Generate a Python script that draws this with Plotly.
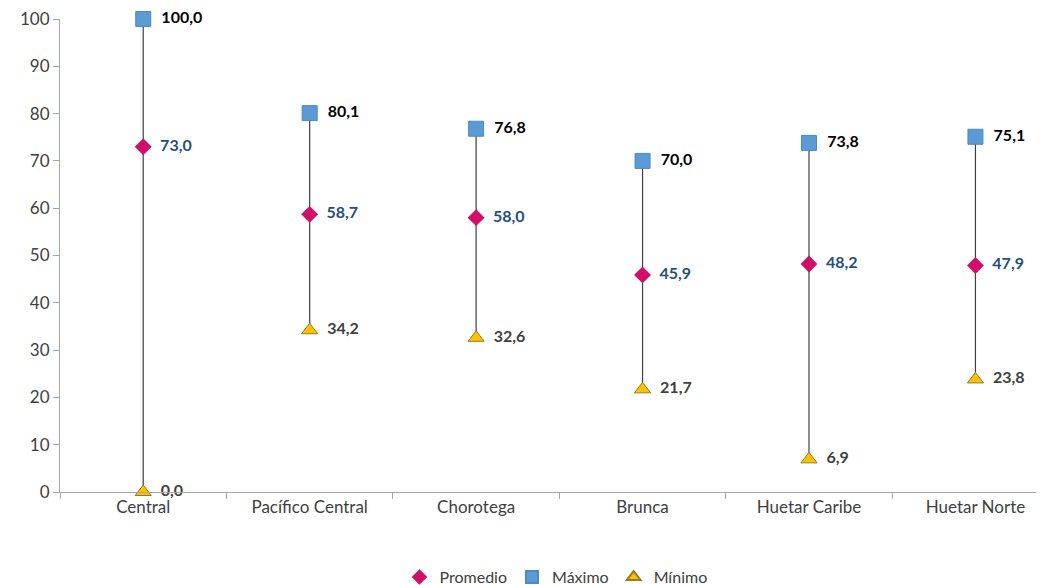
import plotly.graph_objects as go

categories = ["Central", "Pacífico Central", "Chorotega", "Brunca", "Huetar Caribe", "Huetar Norte"]
promedio = [73.0, 58.7, 58.0, 45.9, 48.2, 47.9]
maximo = [100.0, 80.1, 76.8, 70.0, 73.8, 75.1]
minimo = [0.0, 34.2, 32.6, 21.7, 6.9, 23.8]

def fmt(v):
    return "  " + f"{v:.1f}".replace(".", ",")

FONT = "Lato, Open Sans, sans-serif"

lx, ly = [], []
for c, lo, hi in zip(categories, minimo, maximo):
    lx += [c, c, None]
    ly += [lo, hi, None]

fig = go.Figure()
fig.add_trace(go.Scatter(x=lx, y=ly, mode="lines", line=dict(color="#404040", width=1.2),
                         showlegend=False, hoverinfo="skip", cliponaxis=False))
fig.add_trace(go.Scatter(x=categories, y=promedio, mode="markers+text", name="Promedio",
                         marker=dict(symbol="diamond", size=13, color="#D10F68"),
                         text=[fmt(v) for v in promedio], textposition="middle right",
                         textfont=dict(color="#1F5080", size=16, family=FONT, weight="bold"),
                         cliponaxis=False))
fig.add_trace(go.Scatter(x=categories, y=maximo, mode="markers+text", name="Máximo",
                         marker=dict(symbol="square", size=15, color="#5B9BD5",
                                     line=dict(color="#4A89C4", width=1)),
                         text=[fmt(v) for v in maximo], textposition="middle right",
                         textfont=dict(color="#000000", size=16, family=FONT, weight="bold"),
                         cliponaxis=False))
fig.add_trace(go.Scatter(x=categories, y=minimo, mode="markers+text", name="Mínimo",
                         marker=dict(symbol="triangle-up", size=14, color="#FFC000",
                                     line=dict(color="#9A7A20", width=1)),
                         text=[fmt(v) for v in minimo], textposition="middle right",
                         textfont=dict(color="#404040", size=16, family=FONT, weight="bold"),
                         cliponaxis=False))

fig.update_layout(
    width=1044, height=585,
    margin=dict(l=52, r=0, t=11, b=101, autoexpand=False),
    paper_bgcolor="white", plot_bgcolor="white",
    font=dict(family=FONT, size=16, color="#404040"),
    showlegend=True,
    legend=dict(orientation="h", x=0.5, xanchor="center", y=-0.18, yanchor="middle",
                font=dict(size=16, color="#404040", family=FONT), traceorder="normal",
                itemwidth=30, itemsizing="constant"),
)
fig.update_xaxes(type="category", range=[-0.5, 5.46], showline=True, linecolor="#A6A6A6",
                 linewidth=1, ticks="outside", tickson="boundaries", ticklen=6,
                 tickcolor="#A6A6A6", showgrid=False, zeroline=False, automargin=False,
                 ticklabeloverflow="allow",
                 tickfont=dict(size=17, color="#404040", family=FONT))
fig.update_yaxes(range=[0, 100], dtick=10, showline=True, linecolor="#A6A6A6", linewidth=1,
                 ticks="outside", ticklen=6, tickcolor="#A6A6A6", showgrid=False,
                 zeroline=False, automargin=False, ticklabeloverflow="allow",
                 tickfont=dict(size=17, color="#404040", family=FONT))

fig.write_html("out.html")
